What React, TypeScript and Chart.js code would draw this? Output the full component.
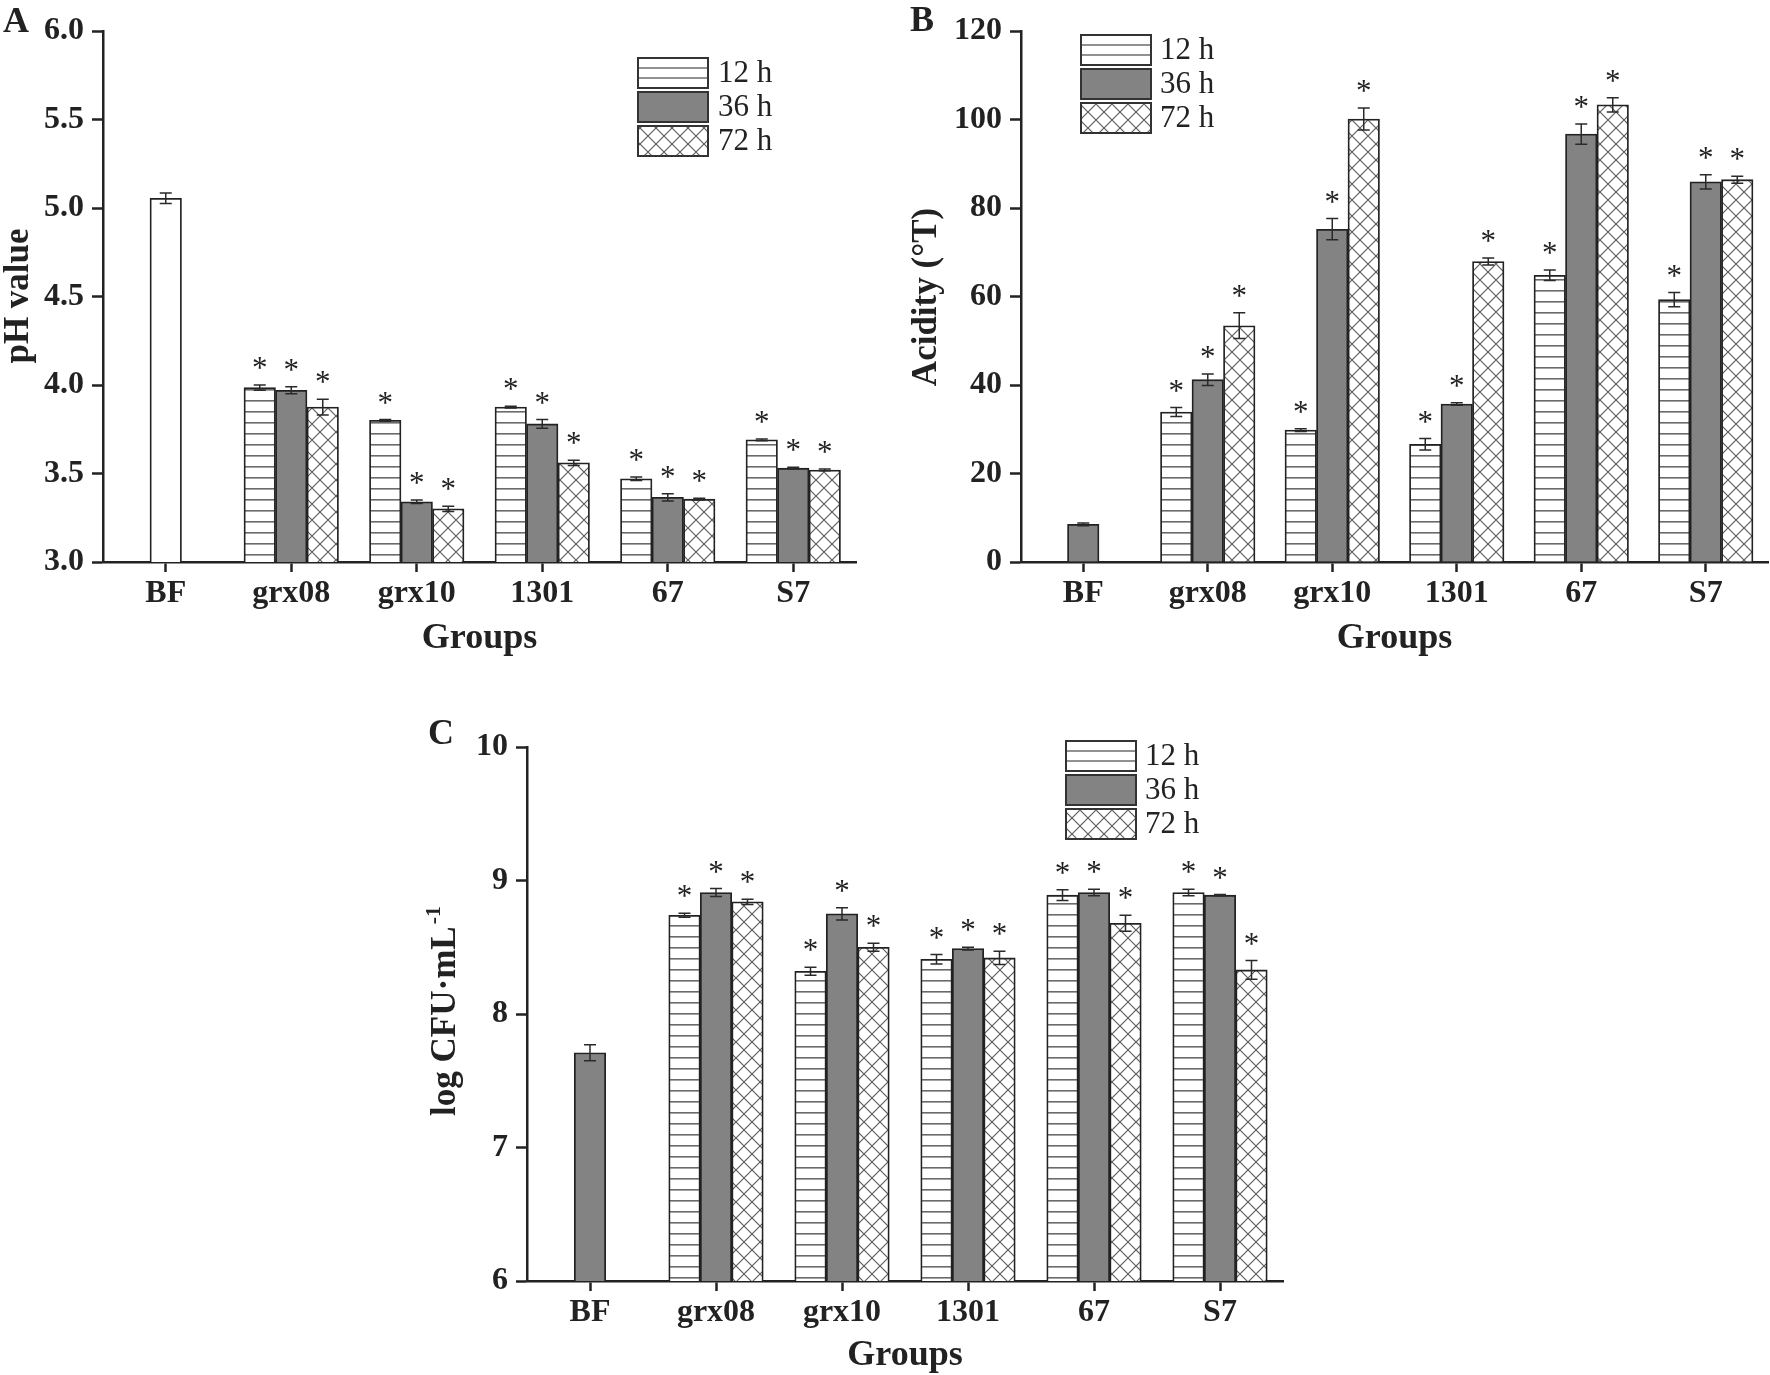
import React, { useEffect, useRef } from "react";
import { Chart, registerables } from "chart.js";

Chart.register(...registerables);

const FONT = "'Liberation Serif', 'Times New Roman', serif";
const INK = "#222222";
const GRAY = "#838383";

// ---------- data ----------
const groups = ["BF", "grx08", "grx10", "1301", "67", "S7"];
const seriesLabels = ["12 h", "36 h", "72 h"];

// Panel A: pH value
const phBF = [5.055, null, null, null, null, null];
const phBFErr = [0.03, 0, 0, 0, 0, 0];
const ph12 = [null, 3.985, 3.8, 3.875, 3.47, 3.69];
const ph12Err = [0, 0.015, 0.005, 0.005, 0.01, 0.005];
const ph36 = [null, 3.97, 3.34, 3.78, 3.365, 3.53];
const ph36Err = [0, 0.02, 0.01, 0.025, 0.02, 0.005];
const ph72 = [null, 3.875, 3.3, 3.56, 3.355, 3.52];
const ph72Err = [0, 0.045, 0.015, 0.015, 0.005, 0.005];
const phTicks = [3.0, 6.0, 0.5];

// Panel B: acidity (°T)
const acBF = [8.5, null, null, null, null, null];
const acBFErr = [0.3, 0, 0, 0, 0, 0];
const ac12 = [null, 33.9, 29.8, 26.6, 64.8, 59.3];
const ac12Err = [0, 1.0, 0.3, 1.3, 1.2, 1.6];
const ac36 = [null, 41.2, 75.2, 35.7, 96.7, 85.9];
const ac36Err = [0, 1.3, 2.4, 0.3, 2.3, 1.6];
const ac72 = [null, 53.4, 100.1, 67.9, 103.3, 86.4];
const ac72Err = [0, 2.9, 2.5, 0.8, 1.6, 0.8];
const acTicks = [0, 120, 20];

// Panel C: log CFU/mL
const cfuBF = [7.71, null, null, null, null, null];
const cfuBFErr = [0.06, 0, 0, 0, 0, 0];
const cfu12 = [null, 8.74, 8.32, 8.41, 8.89, 8.91];
const cfu12Err = [0, 0.015, 0.03, 0.035, 0.04, 0.025];
const cfu36 = [null, 8.91, 8.75, 8.49, 8.91, 8.89];
const cfu36Err = [0, 0.03, 0.045, 0.01, 0.025, 0.005];
const cfu72 = [null, 8.84, 8.5, 8.42, 8.68, 8.33];
const cfu72Err = [0, 0.02, 0.03, 0.05, 0.06, 0.07];
const cfuTicks = [6, 10, 1];

type PanelCfg = {
  letter: string;
  left: number;
  top: number;
  width: number;
  height: number;
  pad: { top: number; right: number };
  yWidth: number;
  xHeight: number;
  ticks: number[];
  decimals: number;
  yTitle: string;
  ySup?: string;
  yTitleX: number;
  yTitleY: number;
  letterX: number;
  letterY: number;
  groupsY: number;
  legendX: number;
  legendY: number;
  legendTextX: number;
  bfStyle: "white" | "gray";
  bf: (number | null)[];
  bfErr: number[];
  s12: (number | null)[];
  e12: number[];
  s36: (number | null)[];
  e36: number[];
  s72: (number | null)[];
  e72: number[];
};

const panels: PanelCfg[] = [
  {
    letter: "A",
    left: 0, top: 0, width: 880, height: 660,
    pad: { top: 31, right: 24 }, yWidth: 103, xHeight: 98,
    ticks: phTicks, decimals: 1,
    yTitle: "pH value", yTitleX: 19, yTitleY: 296,
    letterX: 3, letterY: 32, groupsY: 648,
    legendX: 638, legendY: 58, legendTextX: 718,
    bfStyle: "white",
    bf: phBF, bfErr: phBFErr, s12: ph12, e12: ph12Err, s36: ph36, e36: ph36Err, s72: ph72, e72: ph72Err,
  },
  {
    letter: "B",
    left: 880, top: 0, width: 890, height: 660,
    pad: { top: 31, right: 2 }, yWidth: 141, xHeight: 98,
    ticks: acTicks, decimals: 0,
    yTitle: "Acidity (°T)", yTitleX: 47, yTitleY: 297,
    letterX: 30, letterY: 31, groupsY: 648,
    legendX: 201, legendY: 35, legendTextX: 280,
    bfStyle: "gray",
    bf: acBF, bfErr: acBFErr, s12: ac12, e12: ac12Err, s36: ac36, e36: ac36Err, s72: ac72, e72: ac72Err,
  },
  {
    letter: "C",
    left: 400, top: 690, width: 900, height: 685,
    pad: { top: 57, right: 17 }, yWidth: 127, xHeight: 94,
    ticks: cfuTicks, decimals: 0,
    yTitle: "log CFU·mL", ySup: "-1", yTitleX: 46, yTitleY: 321,
    letterX: 28, letterY: 54, groupsY: 675,
    legendX: 666, legendY: 51, legendTextX: 745,
    bfStyle: "gray",
    bf: cfuBF, bfErr: cfuBFErr, s12: cfu12, e12: cfu12Err, s36: cfu36, e36: cfu36Err, s72: cfu72, e72: cfu72Err,
  },
];

// ---------- patterns ----------
function stripePattern(ctx: CanvasRenderingContext2D): CanvasPattern {
  const c = document.createElement("canvas");
  c.width = 8;
  c.height = 22;
  const g = c.getContext("2d")!;
  g.fillStyle = "#ffffff";
  g.fillRect(0, 0, 8, 22);
  g.fillStyle = "#6a6a6a";
  g.fillRect(0, 4, 8, 1.6);
  g.fillRect(0, 15, 8, 1.6);
  return ctx.createPattern(c, "repeat")!;
}

function crossPattern(ctx: CanvasRenderingContext2D): CanvasPattern {
  const c = document.createElement("canvas");
  const s = 16;
  c.width = s;
  c.height = s;
  const g = c.getContext("2d")!;
  g.fillStyle = "#ffffff";
  g.fillRect(0, 0, s, s);
  g.strokeStyle = "#5e5e5e";
  g.lineWidth = 1.2;
  g.beginPath();
  g.moveTo(-2, -2);
  g.lineTo(s + 2, s + 2);
  g.moveTo(s + 2, -2);
  g.lineTo(-2, s + 2);
  g.stroke();
  return ctx.createPattern(c, "repeat")!;
}

function Panel({ cfg }: { cfg: PanelCfg }) {
  const ref = useRef<HTMLCanvasElement>(null);

  useEffect(() => {
    const canvas = ref.current!;
    const ctx0 = canvas.getContext("2d")!;
    const stripes = stripePattern(ctx0);
    const cross = crossPattern(ctx0);
    const [yMin, yMax, yStep] = cfg.ticks;

    const common = {
      borderColor: INK,
      borderWidth: 1.8,
      barThickness: 31.5,
      skipNull: true,
    };

    const overlay = {
      id: "overlay" + cfg.letter,
      afterDatasetsDraw(chart: any) {
        const ctx: CanvasRenderingContext2D = chart.ctx;
        const y = chart.scales.y;
        chart.data.datasets.forEach((ds: any, di: number) => {
          const meta = chart.getDatasetMeta(di);
          ds.data.forEach((v: number | null, i: number) => {
            if (v === null || v === undefined) return;
            const el = meta.data[i];
            const x = el.x;
            const e = ds.errors[i] || 0;
            const yt = y.getPixelForValue(v + e);
            const yb = y.getPixelForValue(v - e);
            ctx.save();
            ctx.strokeStyle = "#2a2a2a";
            ctx.lineWidth = 1.5;
            ctx.beginPath();
            ctx.moveTo(x, yt);
            ctx.lineTo(x, yb);
            ctx.moveTo(x - 6, yt);
            ctx.lineTo(x + 6, yt);
            ctx.moveTo(x - 6, yb);
            ctx.lineTo(x + 6, yb);
            ctx.stroke();
            if (ds.stars) {
              ctx.font = `31px ${FONT}`;
              ctx.fillStyle = INK;
              ctx.textAlign = "center";
              ctx.textBaseline = "alphabetic";
              const m = ctx.measureText("*");
              const cy = yt - 22;
              const base = cy - (m.actualBoundingBoxDescent - m.actualBoundingBoxAscent) / 2;
              ctx.fillText("*", x, base);
            }
            ctx.restore();
          });
        });
      },
      afterDraw(chart: any) {
        const ctx: CanvasRenderingContext2D = chart.ctx;
        const area = chart.chartArea;
        ctx.save();
        ctx.fillStyle = INK;
        // panel letter
        ctx.font = `bold 36px ${FONT}`;
        ctx.textAlign = "left";
        ctx.textBaseline = "alphabetic";
        ctx.fillText(cfg.letter, cfg.letterX, cfg.letterY);
        // x title
        ctx.font = `bold 36px ${FONT}`;
        ctx.textAlign = "center";
        ctx.fillText("Groups", (area.left + area.right) / 2, cfg.groupsY);
        // y title (rotated)
        ctx.save();
        ctx.translate(cfg.yTitleX, cfg.yTitleY);
        ctx.rotate(-Math.PI / 2);
        ctx.font = `bold 35px ${FONT}`;
        ctx.textBaseline = "middle";
        const w1 = ctx.measureText(cfg.yTitle).width;
        let w2 = 0;
        if (cfg.ySup) {
          ctx.font = `bold 22px ${FONT}`;
          w2 = ctx.measureText(cfg.ySup).width + 2;
        }
        const start = -(w1 + w2) / 2;
        ctx.textAlign = "left";
        ctx.font = `bold 35px ${FONT}`;
        ctx.fillText(cfg.yTitle, start, 0);
        if (cfg.ySup) {
          ctx.font = `bold 22px ${FONT}`;
          ctx.fillText(cfg.ySup, start + w1 + 2, -12);
        }
        ctx.restore();
        // legend
        const bw = 70;
        const bh = 30;
        const pitch = 34;
        for (let k = 0; k < 3; k++) {
          const bx = cfg.legendX;
          const by = cfg.legendY + k * pitch;
          ctx.save();
          if (k === 0) {
            ctx.fillStyle = "#ffffff";
            ctx.fillRect(bx, by, bw, bh);
            ctx.strokeStyle = "#6e6e6e";
            ctx.lineWidth = 1.5;
            ctx.beginPath();
            ctx.moveTo(bx, by + bh / 3);
            ctx.lineTo(bx + bw, by + bh / 3);
            ctx.moveTo(bx, by + (2 * bh) / 3);
            ctx.lineTo(bx + bw, by + (2 * bh) / 3);
            ctx.stroke();
          } else if (k === 1) {
            ctx.fillStyle = GRAY;
            ctx.fillRect(bx, by, bw, bh);
          } else {
            ctx.fillStyle = cross;
            ctx.fillRect(bx, by, bw, bh);
          }
          ctx.strokeStyle = "#333333";
          ctx.lineWidth = 2;
          ctx.strokeRect(bx, by, bw, bh);
          ctx.fillStyle = INK;
          ctx.font = `31px ${FONT}`;
          ctx.textAlign = "left";
          ctx.textBaseline = "middle";
          ctx.fillText(seriesLabels[k], cfg.legendTextX, by + bh / 2 + 1);
          ctx.restore();
        }
        ctx.restore();
      },
    };

    const chart = new Chart(canvas, {
      type: "bar",
      data: {
        labels: groups,
        datasets: [
          { ...common, label: seriesLabels[0], data: cfg.s12, errors: cfg.e12, stars: true, backgroundColor: stripes } as any,
          { ...common, label: seriesLabels[1], data: cfg.s36, errors: cfg.e36, stars: true, backgroundColor: GRAY } as any,
          { ...common, label: seriesLabels[2], data: cfg.s72, errors: cfg.e72, stars: true, backgroundColor: cross } as any,
          { ...common, label: "BF", data: cfg.bf, errors: cfg.bfErr, stars: false, backgroundColor: cfg.bfStyle === "white" ? "#ffffff" : GRAY } as any,
        ],
      },
      options: {
        responsive: false,
        animation: false,
        devicePixelRatio: 1,
        layout: { padding: { top: cfg.pad.top, right: cfg.pad.right, left: 0, bottom: 0 } },
        plugins: { legend: { display: false }, tooltip: { enabled: false }, title: { display: false } },
        scales: {
          x: {
            type: "category",
            offset: true,
            grid: {
              display: true,
              drawOnChartArea: false,
              drawTicks: true,
              tickLength: 10,
              tickWidth: 2.5,
              tickColor: INK,
              offset: false,
            },
            border: { display: true, color: INK, width: 2.5 },
            ticks: { color: INK, padding: 3, font: { family: FONT, size: 32, weight: "bold" } },
            afterFit: (s: any) => {
              s.height = cfg.xHeight;
            },
          },
          y: {
            min: yMin,
            max: yMax,
            grid: {
              display: true,
              drawOnChartArea: false,
              drawTicks: true,
              tickLength: 11,
              tickWidth: 2.5,
              tickColor: INK,
            },
            border: { display: true, color: INK, width: 2.5 },
            ticks: {
              stepSize: yStep,
              color: INK,
              padding: 8,
              font: { family: FONT, size: 32, weight: "bold" },
              callback: (v: any) => Number(v).toFixed(cfg.decimals),
            },
            afterFit: (s: any) => {
              s.width = cfg.yWidth;
            },
          },
        },
      } as any,
      plugins: [overlay],
    });
    return () => chart.destroy();
  }, [cfg]);

  return (
    <canvas
      ref={ref}
      width={cfg.width}
      height={cfg.height}
      style={{ position: "absolute", left: cfg.left, top: cfg.top, width: cfg.width, height: cfg.height }}
    />
  );
}

export default function App() {
  return (
    <div style={{ position: "absolute", left: 0, top: 0, width: 1770, height: 1375, background: "#ffffff" }}>
      {panels.map((p) => (
        <Panel key={p.letter} cfg={p} />
      ))}
    </div>
  );
}
